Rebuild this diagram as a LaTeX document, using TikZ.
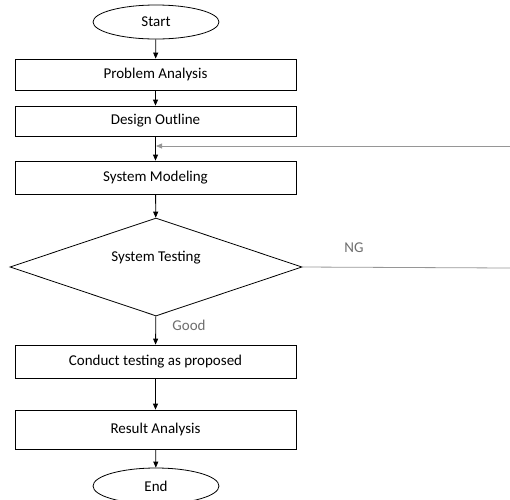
\documentclass[tikz,border=0pt]{standalone}
\usepackage{fontspec}
\setmainfont{Carlito}
\usetikzlibrary{shapes.geometric,arrows.meta}

\definecolor{fbgray}{RGB}{150,150,150}
\definecolor{lblgray}{RGB}{110,110,110}

\tikzset{
	stepbox/.style={draw, minimum width=281pt, minimum height=#1, inner sep=0pt},
	stepbox/.default=31pt,
	term/.style={draw, ellipse, minimum width=126pt, minimum height=#1, inner sep=0pt},
	term/.default=34pt,
	test/.style={draw, diamond, aspect=3, minimum width=292pt, minimum height=98pt, inner sep=0pt, text depth=22pt},
	flow/.style={-{Triangle[length=6pt,width=5pt]}},
	back/.style={fbgray, -{Triangle[length=6pt,width=5pt]}},
	lbl/.style={lblgray, inner sep=0pt}
}

\begin{document}
\begin{tikzpicture}[x=1pt, y=-1pt, line width=0.8pt, font=\fontsize{15}{17}\selectfont]
	\useasboundingbox (0,0) rectangle (510,499);
	\clip (0,0) rectangle (510,499);
	\node[term] (start) at (156,22) {Start};
	\node[stepbox] (pa) at (155.5,74.5) {Problem Analysis};
	\node[stepbox=30pt] (do) at (155.5,121) {Design Outline};
	\node[stepbox=33pt] (sm) at (155.5,177.5) {System Modeling};
	\node[test] (st) at (156,267) {System Testing};
	\node[stepbox=33pt] (ct) at (155.5,361.5) {Conduct testing as proposed};
	\node[stepbox=39pt] (ra) at (155.5,429.5) {Result Analysis};
	\node[term=36pt] (end) at (156,486) {End};
	% loop back
	\coordinate (ngR) at (510,268);
	\coordinate (fbR) at (510,146);
	\node[lbl] (ng) at (354,248) {NG};
	\node[lbl, anchor=west] (good) at (172,325) {Good};
	\draw[flow] (start) -- (pa);
	\draw[flow] (pa) -- (do);
	\draw[flow] (do) -- (sm);
	\draw[flow] (sm) -- (st);
	\draw[flow] (st) -- (ct);
	\draw[flow] (ct) -- (ra);
	\draw[flow] (ra) -- (end);
	\draw[fbgray] (st.east) -- (ngR);
	\draw[back] (fbR) -- ([xshift=0.5pt]do.south |- fbR);
\end{tikzpicture}
\end{document}
